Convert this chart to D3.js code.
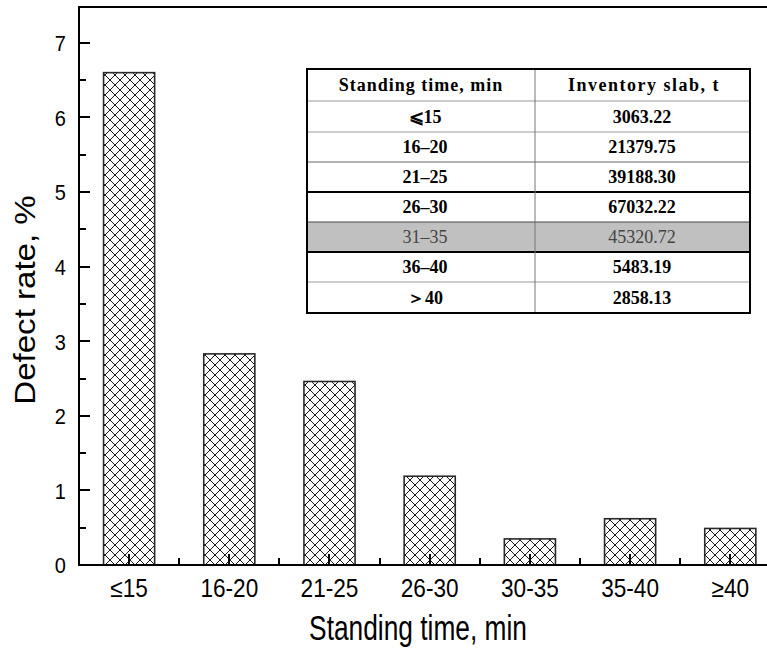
<!DOCTYPE html>
<html>
<head>
<meta charset="utf-8">
<script src="https://cdn.jsdelivr.net/npm/d3@7"></script>
<style>
  body { margin: 0; background: #fff; }
  svg { display: block; }
</style>
</head>
<body>
<svg width="767" height="648"></svg>
<script>
// chart data
var categories = ["\u226415", "16-20", "21-25", "26-30", "30-35", "35-40", "\u226540"];
var defectRate = [6.6, 2.83, 2.46, 1.19, 0.35, 0.62, 0.49];
var yTicks = [0, 1, 2, 3, 4, 5, 6, 7];

// inset table data
var tableHeader = ["Standing time, min", "Inventory slab, t"];
var tableRanges = ["\u2a7d15", "16\u201320", "21\u201325", "26\u201330", "31\u201335", "36\u201340", "\uff1e40"];
var tableInventory = ["3063.22", "21379.75", "39188.30", "67032.22", "45320.72", "5483.19", "2858.13"];
var highlightRow = 4;

var svg = d3.select("svg"),
    width = +svg.attr("width"),
    height = +svg.attr("height");

var plotL = 79, plotT = 7, plotB = 565, plotR = 780.4;

var x = d3.scaleBand()
    .domain(categories)
    .range([plotL, plotR])
    .paddingInner(0.49)
    .paddingOuter(0.245);

var xEdge = d3.scaleLinear().domain([0, 7]).range([plotL, plotR]);

var y = d3.scaleLinear()
    .domain([0, 7.48])
    .range([plotB, plotT]);

// crosshatch pattern
var pat = svg.append("defs").append("pattern")
    .attr("id", "hatch")
    .attr("patternUnits", "userSpaceOnUse")
    .attr("width", 10)
    .attr("height", 10);
pat.append("rect").attr("width", 10).attr("height", 10).attr("fill", "#fff");
pat.append("path")
    .attr("d", "M0,0L10,10M10,0L0,10")
    .attr("stroke", "#1a1a1a")
    .attr("stroke-width", 1)
    .attr("fill", "none");

// bars
svg.selectAll(".bar")
    .data(defectRate)
    .enter().append("rect")
    .attr("class", "bar")
    .attr("x", function(d, i) { return x(categories[i]); })
    .attr("y", function(d) { return y(d); })
    .attr("width", x.bandwidth())
    .attr("height", function(d) { return y(0) - y(d); })
    .attr("fill", "url(#hatch)")
    .attr("stroke", "#2a2a2a")
    .attr("stroke-width", 1.6);

// y axis labels
var yAxis = svg.append("g")
    .attr("transform", "translate(" + plotL + ",0)")
    .call(d3.axisLeft(y).tickValues(yTicks).tickSize(0).tickPadding(13));
yAxis.select(".domain").remove();
yAxis.selectAll(".tick line").remove();
yAxis.selectAll(".tick text")
    .attr("x", null).attr("dy", null)
    .attr("transform", "translate(-13,7.9) scale(1,1.1)")
    .attr("fill", "#000")
    .style("font-family", "'Liberation Sans', Arial, sans-serif")
    .style("font-size", "20px");

// x axis labels
var xAxis = svg.append("g")
    .attr("transform", "translate(0," + plotB + ")")
    .call(d3.axisBottom(x).tickSize(0));
xAxis.select(".domain").remove();
xAxis.selectAll(".tick line").remove();
xAxis.selectAll(".tick text")
    .attr("y", null).attr("dy", null)
    .attr("transform", "translate(0,32) scale(1,1.13)")
    .attr("fill", "#000")
    .style("font-family", "'Liberation Sans', Arial, sans-serif")
    .style("font-size", "22.6px");

// inward ticks drawn as solid rects
var ticks = svg.append("g").attr("fill", "#000");
ticks.selectAll(".ymaj").data(yTicks).enter().append("rect")
    .attr("x", plotL).attr("y", function(d) { return Math.round(y(d)) - 1; })
    .attr("width", 11).attr("height", 2);
ticks.selectAll(".ymin").data(d3.range(0.5, 7.5, 1)).enter().append("rect")
    .attr("x", plotL).attr("y", function(d) { return Math.round(y(d)) - 1; })
    .attr("width", 7).attr("height", 2);
ticks.selectAll(".xmaj").data(categories).enter().append("rect")
    .attr("x", function(d) { return Math.round(x(d) + x.bandwidth() / 2) - 1; })
    .attr("y", plotB - 11).attr("width", 2).attr("height", 11);
ticks.selectAll(".xmin").data(d3.range(1, 8)).enter().append("rect")
    .attr("x", function(d) { return Math.round(xEdge(d)) - 1; })
    .attr("y", plotB - 7).attr("width", 2).attr("height", 7);

// frame: left, top, bottom
svg.append("path")
    .attr("d", "M" + width + "," + plotT + "H" + plotL + "V" + plotB + "H" + width)
    .attr("fill", "none")
    .attr("stroke", "#000")
    .attr("stroke-width", 2)
    .attr("shape-rendering", "crispEdges");

// axis titles
svg.append("text")
    .attr("transform", "translate(418,639.5) scale(1,1.3)")
    .attr("text-anchor", "middle")
    .style("font-family", "'Liberation Sans', Arial, sans-serif")
    .style("font-size", "26.3px")
    .text("Standing time, min");

svg.append("text")
    .attr("transform", "translate(35,300) rotate(-90) scale(1.14,1)")
    .attr("text-anchor", "middle")
    .style("font-family", "'Liberation Sans', Arial, sans-serif")
    .style("font-size", "29px")
    .text("Defect rate, %");

// inset table
var tx0 = 307, tx1 = 535, tx2 = 750;
var rowEdges = [69, 101, 132, 162, 192, 222, 252, 282, 313];
var rowLine = [null, "#999", "#999", "#666", "#000", "#444", "#000", "#999", null];
var rowLineW = [0, 1, 1, 1, 2, 1, 2, 1, 0];

var tbl = svg.append("g");
tbl.append("rect")
    .attr("x", tx0).attr("y", rowEdges[0])
    .attr("width", tx2 - tx0).attr("height", rowEdges[8] - rowEdges[0])
    .attr("fill", "#fff");
tbl.append("rect")
    .attr("x", tx0).attr("y", rowEdges[highlightRow + 1])
    .attr("width", tx2 - tx0).attr("height", rowEdges[highlightRow + 2] - rowEdges[highlightRow + 1])
    .attr("fill", "#c0c0c0");

for (var i = 1; i < 8; i++) {
  tbl.append("line")
      .attr("x1", tx0).attr("x2", tx2)
      .attr("y1", rowEdges[i]).attr("y2", rowEdges[i])
      .attr("stroke", rowLine[i]).attr("stroke-width", rowLineW[i]);
}
tbl.append("line")
    .attr("x1", tx1).attr("x2", tx1)
    .attr("y1", rowEdges[0]).attr("y2", rowEdges[8])
    .attr("stroke", "#777").attr("stroke-width", 1);
tbl.append("rect")
    .attr("x", tx0).attr("y", rowEdges[0])
    .attr("width", tx2 - tx0).attr("height", rowEdges[8] - rowEdges[0])
    .attr("fill", "none").attr("stroke", "#000").attr("stroke-width", 2);

var cellFont = "'Liberation Serif', 'DejaVu Serif', serif";
function cell(txt, cx, r, color, weight, size, spacing) {
  tbl.append("text")
      .attr("x", cx)
      .attr("y", (rowEdges[r] + rowEdges[r + 1]) / 2)
      .attr("dy", "0.35em")
      .attr("text-anchor", "middle")
      .attr("fill", color)
      .style("font-family", cellFont)
      .style("font-weight", weight)
      .style("font-size", size)
      .style("letter-spacing", spacing || "0px")
      .text(txt);
}
cell(tableHeader[0], 421, 0, "#000", "bold", "18px", "1px");
cell(tableHeader[1], 644, 0, "#000", "bold", "18px", "1.5px");
tableRanges.forEach(function(t, i) {
  var hl = i === highlightRow;
  cell(t, 425, i + 1, hl ? "#444" : "#000", hl ? "normal" : "bold", "18px");
  cell(tableInventory[i], 642, i + 1, hl ? "#444" : "#000", hl ? "normal" : "bold", "18px");
});
</script>
</body>
</html>
